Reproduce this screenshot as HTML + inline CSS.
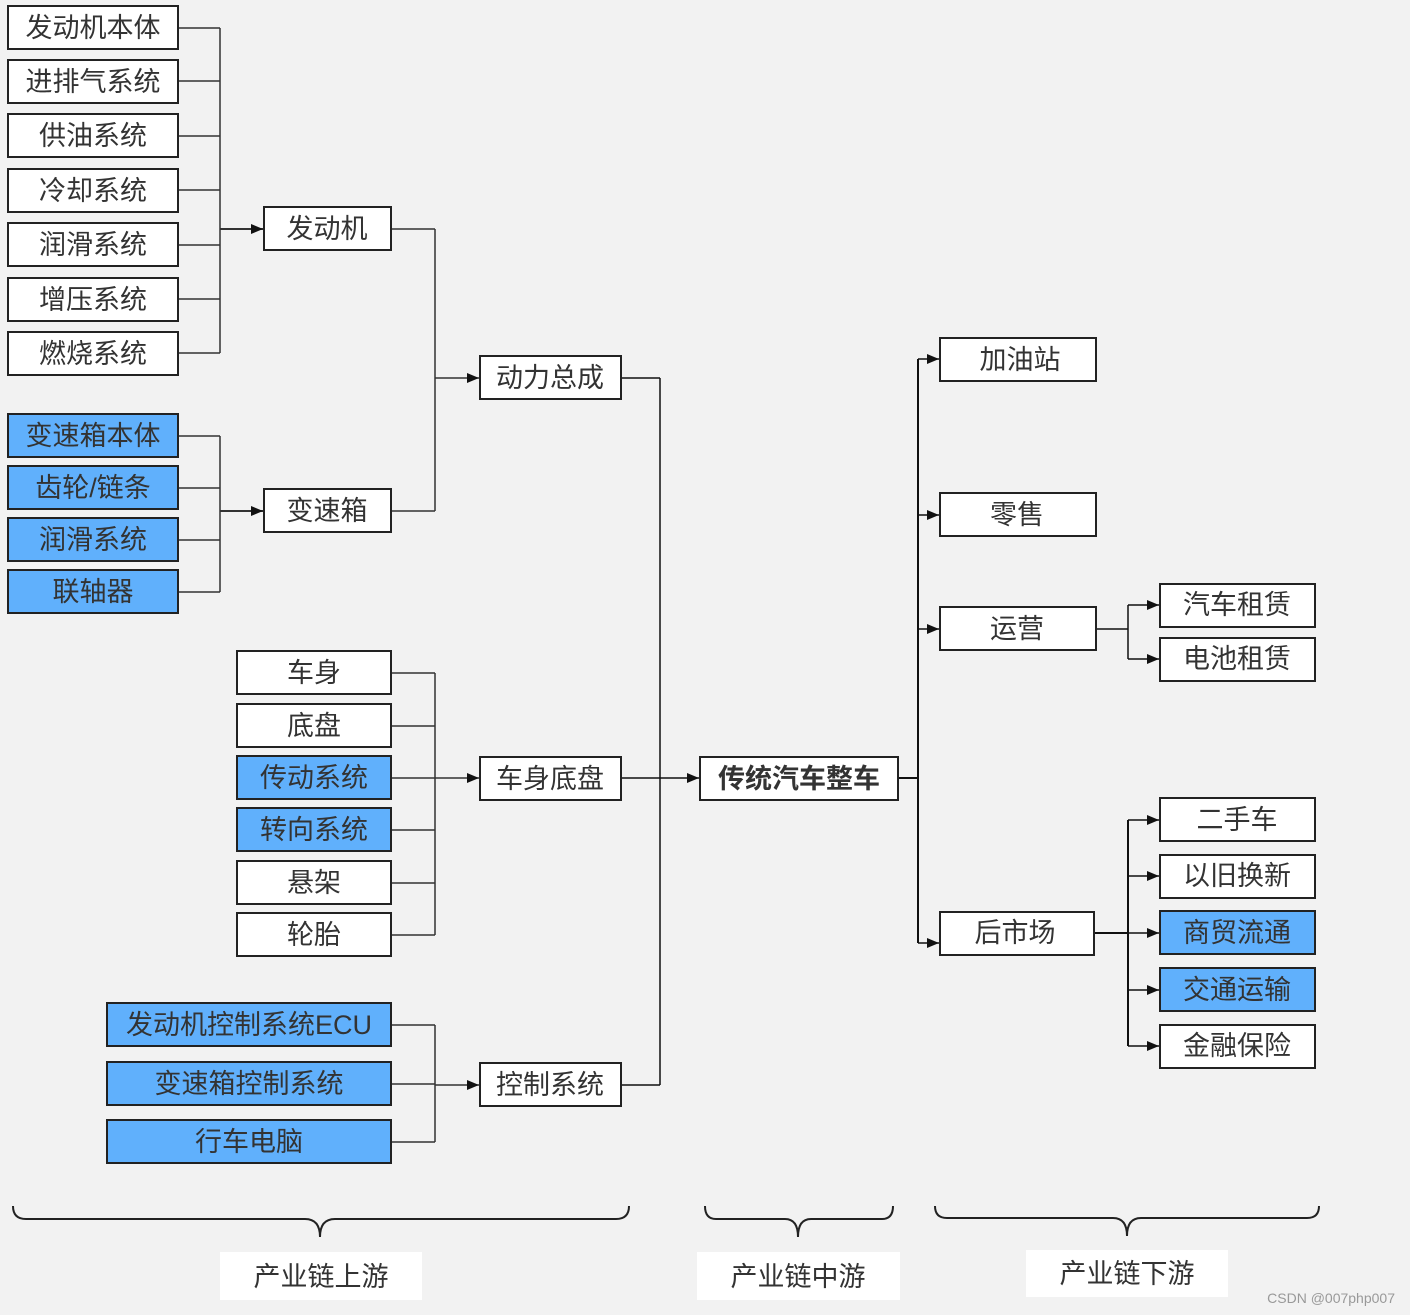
<!DOCTYPE html>
<html><head><meta charset="utf-8"><style>
html,body{margin:0;padding:0;background:#f2f2f2;}
svg{display:block;}
text{font-family:"Liberation Sans","Noto Sans CJK SC",sans-serif;fill:#333;font-size:27px;}
</style></head><body>
<svg width="1410" height="1315" viewBox="0 0 1410 1315" xmlns="http://www.w3.org/2000/svg">
<defs><marker id="a" markerWidth="12" markerHeight="10" refX="12" refY="5" orient="auto" markerUnits="userSpaceOnUse"><path d="M0,0 L12,5 L0,10 z" fill="#111"/></marker></defs>
<rect width="1410" height="1315" fill="#f2f2f2"/>
<g stroke="#333" stroke-width="1.5" fill="none">
<!-- engine group -->
<path d="M178,28H220M178,81H220M178,136H220M178,190H220M178,245H220M178,299H220M178,353H220M220,28V353"/>
<path d="M220,229H263" marker-end="url(#a)" stroke-width="2"/>
<path d="M178,436H220M178,488H220M178,540H220M178,592H220M220,436V592"/>
<path d="M220,511H263" marker-end="url(#a)" stroke-width="2"/>
<path d="M391,229H435M391,511H435M435,229V511"/>
<path d="M435,378H479" marker-end="url(#a)"/>
<path d="M391,673H435M391,726H435M391,778H435M391,830H435M391,883H435M391,935H435M435,673V935"/>
<path d="M435,778H479" marker-end="url(#a)"/>
<path d="M391,1025H435M391,1084H435M391,1142H435M435,1025V1142"/>
<path d="M435,1085H479" marker-end="url(#a)"/>
<path d="M621,378H660M621,778H660M621,1085H660M660,378V1085" stroke="#111"/>
<path d="M660,778H699" marker-end="url(#a)" stroke="#111"/>
<path d="M898,778H918M918,359V943" stroke="#111" stroke-width="2"/>
<path d="M918,359H939" marker-end="url(#a)" stroke="#111"/>
<path d="M918,515H939" marker-end="url(#a)" stroke="#111"/>
<path d="M918,629H939" marker-end="url(#a)" stroke="#111"/>
<path d="M918,943H939" marker-end="url(#a)" stroke="#111"/>
<path d="M1096,629H1128M1128,605V659" stroke="#111"/>
<path d="M1128,605H1159" marker-end="url(#a)" stroke="#111"/>
<path d="M1128,659H1159" marker-end="url(#a)" stroke="#111"/>
<path d="M1094,933H1128M1128,820V1046" stroke="#111" stroke-width="2"/>
<path d="M1128,820H1159" marker-end="url(#a)" stroke="#111"/>
<path d="M1128,876H1159" marker-end="url(#a)" stroke="#111"/>
<path d="M1128,933H1159" marker-end="url(#a)" stroke="#111"/>
<path d="M1128,990H1159" marker-end="url(#a)" stroke="#111"/>
<path d="M1128,1046H1159" marker-end="url(#a)" stroke="#111"/>
<!-- braces -->
<path d="M13,1206 Q13,1219 26,1219 H305 Q320,1219 320,1237 Q320,1219 335,1219 H616 Q629,1219 629,1206" stroke="#222" stroke-width="2"/>
<path d="M705,1206 Q705,1219 716,1219 H785 Q798,1219 798,1237 Q798,1219 811,1219 H882 Q893,1219 893,1206" stroke="#222" stroke-width="2"/>
<path d="M935,1206 Q935,1218 947,1218 H1113 Q1127,1218 1127,1236 Q1127,1218 1141,1218 H1307 Q1319,1218 1319,1206" stroke="#222" stroke-width="2"/>
</g>
<g stroke="#222" stroke-width="2">
<rect x="8" y="6" width="170" height="43" fill="#fff"/>
<rect x="8" y="60" width="170" height="43" fill="#fff"/>
<rect x="8" y="114" width="170" height="43" fill="#fff"/>
<rect x="8" y="169" width="170" height="43" fill="#fff"/>
<rect x="8" y="223" width="170" height="43" fill="#fff"/>
<rect x="8" y="278" width="170" height="43" fill="#fff"/>
<rect x="8" y="332" width="170" height="43" fill="#fff"/>
<rect x="8" y="414" width="170" height="43" fill="#60b0fc"/>
<rect x="8" y="466" width="170" height="43" fill="#60b0fc"/>
<rect x="8" y="518" width="170" height="43" fill="#60b0fc"/>
<rect x="8" y="570" width="170" height="43" fill="#60b0fc"/>
<rect x="264" y="207" width="127" height="43" fill="#fff"/>
<rect x="264" y="489" width="127" height="43" fill="#fff"/>
<rect x="480" y="356" width="141" height="43" fill="#fff"/>
<rect x="237" y="651" width="154" height="43" fill="#fff"/>
<rect x="237" y="704" width="154" height="43" fill="#fff"/>
<rect x="237" y="756" width="154" height="43" fill="#60b0fc"/>
<rect x="237" y="808" width="154" height="43" fill="#60b0fc"/>
<rect x="237" y="861" width="154" height="43" fill="#fff"/>
<rect x="237" y="913" width="154" height="43" fill="#fff"/>
<rect x="480" y="757" width="141" height="43" fill="#fff"/>
<rect x="107" y="1003" width="284" height="43" fill="#60b0fc"/>
<rect x="107" y="1062" width="284" height="43" fill="#60b0fc"/>
<rect x="107" y="1120" width="284" height="43" fill="#60b0fc"/>
<rect x="480" y="1063" width="141" height="43" fill="#fff"/>
<rect x="700" y="757" width="198" height="43" fill="#fff"/>
<rect x="940" y="338" width="156" height="43" fill="#fff"/>
<rect x="940" y="493" width="156" height="43" fill="#fff"/>
<rect x="940" y="607" width="156" height="43" fill="#fff"/>
<rect x="940" y="912" width="154" height="43" fill="#fff"/>
<rect x="1160" y="584" width="155" height="43" fill="#fff"/>
<rect x="1160" y="638" width="155" height="43" fill="#fff"/>
<rect x="1160" y="798" width="155" height="43" fill="#fff"/>
<rect x="1160" y="855" width="155" height="43" fill="#fff"/>
<rect x="1160" y="911" width="155" height="43" fill="#60b0fc"/>
<rect x="1160" y="968" width="155" height="43" fill="#60b0fc"/>
<rect x="1160" y="1025" width="155" height="43" fill="#fff"/>
</g>
<rect x="220" y="1252" width="202" height="48" fill="#fff"/>
<rect x="697" y="1252" width="203" height="48" fill="#fff"/>
<rect x="1026" y="1250" width="202" height="47" fill="#fff"/>
<g text-anchor="middle" dominant-baseline="central">
<text x="93" y="28">发动机本体</text>
<text x="93" y="82">进排气系统</text>
<text x="93" y="136">供油系统</text>
<text x="93" y="191">冷却系统</text>
<text x="93" y="245">润滑系统</text>
<text x="93" y="300">增压系统</text>
<text x="93" y="354">燃烧系统</text>
<text x="93" y="436">变速箱本体</text>
<text x="93" y="488">齿轮/链条</text>
<text x="93" y="540">润滑系统</text>
<text x="93" y="592">联轴器</text>
<text x="327" y="229">发动机</text>
<text x="327" y="511">变速箱</text>
<text x="550" y="378">动力总成</text>
<text x="314" y="673">车身</text>
<text x="314" y="726">底盘</text>
<text x="314" y="778">传动系统</text>
<text x="314" y="830">转向系统</text>
<text x="314" y="883">悬架</text>
<text x="314" y="935">轮胎</text>
<text x="550" y="779">车身底盘</text>
<text x="249" y="1025">发动机控制系统ECU</text>
<text x="249" y="1084">变速箱控制系统</text>
<text x="249" y="1142">行车电脑</text>
<text x="550" y="1085">控制系统</text>
<text x="799" y="779" font-weight="bold">传统汽车整车</text>
<text x="1020" y="360">加油站</text>
<text x="1017" y="515">零售</text>
<text x="1017" y="629">运营</text>
<text x="1015" y="933">后市场</text>
<text x="1237" y="605">汽车租赁</text>
<text x="1237" y="659">电池租赁</text>
<text x="1237" y="820">二手车</text>
<text x="1237" y="876">以旧换新</text>
<text x="1237" y="933">商贸流通</text>
<text x="1237" y="990">交通运输</text>
<text x="1237" y="1046">金融保险</text>
<text x="321" y="1277">产业链上游</text>
<text x="798" y="1277">产业链中游</text>
<text x="1127" y="1274">产业链下游</text>
</g>
<text x="1395" y="1303" text-anchor="end" style="font-size:14px;fill:#999">CSDN @007php007</text>
</svg>
</body></html>
